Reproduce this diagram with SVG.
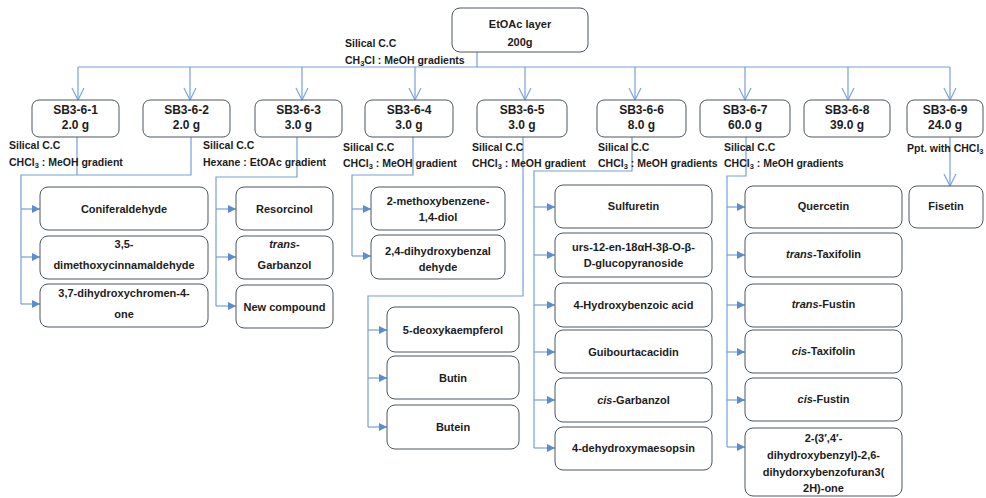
<svg xmlns="http://www.w3.org/2000/svg" width="986" height="498" viewBox="0 0 986 498">
  <style>
    .box { fill: #ffffff; stroke: #4b5663; stroke-width: 1; }
    .ln { fill: none; stroke: #74a1d8; stroke-width: 1.2; }
    .t { font-family: "Liberation Sans", Arial, sans-serif; font-weight: bold; font-size: 11px; fill: #1c1c1c; text-anchor: middle; }
    .f { font-size: 12px; }
    .lbl { font-family: "Liberation Sans", Arial, sans-serif; font-weight: bold; font-size: 10.5px; fill: #1c1c1c; }
    .sub { font-size: 7.5px; }
    .it { font-style: italic; }
  </style>
  <defs>
    <marker id="tri" viewBox="0 0 10 10" refX="10" refY="5" markerWidth="8" markerHeight="8" markerUnits="userSpaceOnUse" orient="auto">
      <path d="M0,0 L10,5 L0,10 z" fill="#5a8ccf"/>
    </marker>
    <marker id="vee" viewBox="0 0 14 14" refX="13" refY="7" markerWidth="14" markerHeight="14" markerUnits="userSpaceOnUse" orient="auto">
      <path d="M1,1 L13,7 L1,13" fill="none" stroke="#7aa6dc" stroke-width="1.2"/>
    </marker>
  </defs>
  <rect width="986" height="498" fill="#ffffff"/>

  <!-- connectors -->
  <g id="connectors">
    <!-- root to fractions -->
    <path class="ln" d="M477,52 V67 M78,67 H950"/>
    <path class="ln" marker-end="url(#vee)" d="M78,67 V100"/>
    <path class="ln" marker-end="url(#vee)" d="M190,67 V100"/>
    <path class="ln" marker-end="url(#vee)" d="M302,67 V100"/>
    <path class="ln" marker-end="url(#vee)" d="M415,67 V100"/>
    <path class="ln" marker-end="url(#vee)" d="M525,67 V100"/>
    <path class="ln" marker-end="url(#vee)" d="M635,67 V100"/>
    <path class="ln" marker-end="url(#vee)" d="M745,67 V100"/>
    <path class="ln" marker-end="url(#vee)" d="M848,67 V100"/>
    <path class="ln" marker-end="url(#vee)" d="M950,67 V100"/>

    <!-- SB3-6-1 / SB3-6-2 -->
    <path class="ln" d="M77,137 V175 M191,137 V175 H21 V304"/>
    <path class="ln" marker-end="url(#tri)" d="M21,209 H40"/>
    <path class="ln" marker-end="url(#tri)" d="M21,257 H40"/>
    <path class="ln" marker-end="url(#tri)" d="M21,304 H40"/>

    <!-- SB3-6-3 -->
    <path class="ln" d="M297,137 V177 H216 V306"/>
    <path class="ln" marker-end="url(#tri)" d="M216,209 H236"/>
    <path class="ln" marker-end="url(#tri)" d="M216,257 H236"/>
    <path class="ln" marker-end="url(#tri)" d="M216,306 H236"/>

    <!-- SB3-6-4 -->
    <path class="ln" d="M413,137 V175 H352 V256"/>
    <path class="ln" marker-end="url(#tri)" d="M352,209 H371"/>
    <path class="ln" marker-end="url(#tri)" d="M352,256 H371"/>

    <!-- SB3-6-5 -->
    <path class="ln" d="M523,137 V296 H368 V427"/>
    <path class="ln" marker-end="url(#tri)" d="M368,330 H387"/>
    <path class="ln" marker-end="url(#tri)" d="M368,378 H387"/>
    <path class="ln" marker-end="url(#tri)" d="M368,427 H387"/>

    <!-- SB3-6-6 -->
    <path class="ln" d="M632,137 V171 H534 V448"/>
    <path class="ln" marker-end="url(#tri)" d="M534,207 H555"/>
    <path class="ln" marker-end="url(#tri)" d="M534,255 H555"/>
    <path class="ln" marker-end="url(#tri)" d="M534,305 H555"/>
    <path class="ln" marker-end="url(#tri)" d="M534,352 H555"/>
    <path class="ln" marker-end="url(#tri)" d="M534,400 H555"/>
    <path class="ln" marker-end="url(#tri)" d="M534,448 H555"/>

    <!-- SB3-6-7 -->
    <path class="ln" d="M746,137 V176 H727 V447"/>
    <path class="ln" marker-end="url(#tri)" d="M727,207 H745"/>
    <path class="ln" marker-end="url(#tri)" d="M727,255 H745"/>
    <path class="ln" marker-end="url(#tri)" d="M727,305 H745"/>
    <path class="ln" marker-end="url(#tri)" d="M727,352 H745"/>
    <path class="ln" marker-end="url(#tri)" d="M727,400 H745"/>
    <path class="ln" marker-end="url(#tri)" d="M727,447 H745"/>

    <!-- SB3-6-9 -->
    <path class="ln" marker-end="url(#vee)" d="M950,137 V186"/>
  </g>

  <!-- process labels -->
  <g id="labels">
    <text class="lbl" x="345" y="47">Silical C.C</text>
    <text class="lbl" x="345" y="64">CH<tspan class="sub" dy="2">3</tspan><tspan dy="-2">Cl : MeOH gradients</tspan></text>

    <text class="lbl" x="9" y="149">Silical C.C</text>
    <text class="lbl" x="9" y="166">CHCl<tspan class="sub" dy="2">3</tspan><tspan dy="-2"> : MeOH gradient</tspan></text>

    <text class="lbl" x="203" y="149">Silical C.C</text>
    <text class="lbl" x="203" y="166">Hexane : EtOAc gradient</text>

    <text class="lbl" x="343" y="151">Silical C.C</text>
    <text class="lbl" x="343" y="167">CHCl<tspan class="sub" dy="2">3</tspan><tspan dy="-2"> : MeOH gradient</tspan></text>

    <text class="lbl" x="472" y="151">Silical C.C</text>
    <text class="lbl" x="472" y="167">CHCl<tspan class="sub" dy="2">3</tspan><tspan dy="-2"> : MeOH gradient</tspan></text>

    <text class="lbl" x="598" y="151">Silical C.C</text>
    <text class="lbl" x="598" y="167">CHCl<tspan class="sub" dy="2">3</tspan><tspan dy="-2"> : MeOH gradients</tspan></text>

    <text class="lbl" x="724" y="151">Silical C.C</text>
    <text class="lbl" x="724" y="167">CHCl<tspan class="sub" dy="2">3</tspan><tspan dy="-2"> : MeOH gradients</tspan></text>

    <text class="lbl" x="907" y="152">Ppt. with CHCl<tspan class="sub" dy="2">3</tspan></text>
  </g>

  <!-- root -->
  <g id="etoac">
    <rect class="box" x="452" y="8" width="136" height="44" rx="8"/>
    <text class="t" x="520" y="28">EtOAc layer</text>
    <text class="t" x="520" y="46">200g</text>
  </g>

  <!-- fractions -->
  <g id="sb3-6-1"><rect class="box" x="32" y="100" width="87" height="37" rx="7"/><text class="t f" x="75.5" y="114">SB3-6-1</text><text class="t f" x="75.5" y="129">2.0 g</text></g>
  <g id="sb3-6-2"><rect class="box" x="143" y="100" width="87" height="37" rx="7"/><text class="t f" x="186.5" y="114">SB3-6-2</text><text class="t f" x="186.5" y="129">2.0 g</text></g>
  <g id="sb3-6-3"><rect class="box" x="255" y="100" width="87" height="37" rx="7"/><text class="t f" x="298.5" y="114">SB3-6-3</text><text class="t f" x="298.5" y="129">3.0 g</text></g>
  <g id="sb3-6-4"><rect class="box" x="365" y="100" width="88" height="37" rx="7"/><text class="t f" x="409" y="114">SB3-6-4</text><text class="t f" x="409" y="129">3.0 g</text></g>
  <g id="sb3-6-5"><rect class="box" x="477" y="100" width="90" height="37" rx="7"/><text class="t f" x="522" y="114">SB3-6-5</text><text class="t f" x="522" y="129">3.0 g</text></g>
  <g id="sb3-6-6"><rect class="box" x="597" y="100" width="89" height="37" rx="7"/><text class="t f" x="641.5" y="114">SB3-6-6</text><text class="t f" x="641.5" y="129">8.0 g</text></g>
  <g id="sb3-6-7"><rect class="box" x="700" y="100" width="90" height="37" rx="7"/><text class="t f" x="745" y="114">SB3-6-7</text><text class="t f" x="745" y="129">60.0 g</text></g>
  <g id="sb3-6-8"><rect class="box" x="804" y="100" width="86" height="37" rx="7"/><text class="t f" x="847" y="114">SB3-6-8</text><text class="t f" x="847" y="129">39.0 g</text></g>
  <g id="sb3-6-9"><rect class="box" x="907" y="100" width="76" height="37" rx="7"/><text class="t f" x="945" y="114">SB3-6-9</text><text class="t f" x="945" y="129">24.0 g</text></g>

  <!-- compounds from SB3-6-1 / SB3-6-2 -->
  <g id="coniferaldehyde"><rect class="box" x="40" y="187" width="168" height="43" rx="8"/><text class="t" x="124" y="213">Coniferaldehyde</text></g>
  <g id="dimethoxycinnamaldehyde"><rect class="box" x="40" y="236" width="168" height="43" rx="8"/><text class="t" x="124" y="248">3,5-</text><text class="t" x="124" y="269">dimethoxycinnamaldehyde</text></g>
  <g id="dihydroxychromenone"><rect class="box" x="40" y="284" width="168" height="43" rx="8"/><text class="t" x="124" y="297">3,7-dihydroxychromen-4-</text><text class="t" x="124" y="318">one</text></g>

  <!-- compounds from SB3-6-3 -->
  <g id="resorcinol"><rect class="box" x="236" y="187" width="97" height="43" rx="8"/><text class="t" x="284.5" y="213">Resorcinol</text></g>
  <g id="trans-garbanzol"><rect class="box" x="236" y="236" width="97" height="43" rx="8"/><text class="t" x="284.5" y="248"><tspan class="it">trans</tspan>-</text><text class="t" x="284.5" y="269">Garbanzol</text></g>
  <g id="new-compound"><rect class="box" x="236" y="285" width="97" height="43" rx="8"/><text class="t" x="284.5" y="311">New compound</text></g>

  <!-- compounds from SB3-6-4 -->
  <g id="methoxybenzenediol"><rect class="box" x="371" y="187" width="134" height="43" rx="8"/><text class="t" x="438" y="205">2-methoxybenzene-</text><text class="t" x="438" y="221">1,4-diol</text></g>
  <g id="dihydroxybenzaldehyde"><rect class="box" x="371" y="235" width="134" height="44" rx="8"/><text class="t" x="438" y="255">2,4-dihydroxybenzal</text><text class="t" x="438" y="271">dehyde</text></g>

  <!-- compounds from SB3-6-5 -->
  <g id="deoxykaempferol"><rect class="box" x="387" y="307" width="132" height="45" rx="8"/><text class="t" x="453" y="334">5-deoxykaempferol</text></g>
  <g id="butin"><rect class="box" x="387" y="356" width="132" height="43" rx="8"/><text class="t" x="453" y="382">Butin</text></g>
  <g id="butein"><rect class="box" x="387" y="405" width="132" height="44" rx="8"/><text class="t" x="453" y="431">Butein</text></g>

  <!-- compounds from SB3-6-6 -->
  <g id="sulfuretin"><rect class="box" x="555" y="185" width="157" height="43" rx="8"/><text class="t" x="633.5" y="210">Sulfuretin</text></g>
  <g id="urs-glucopyranoside"><rect class="box" x="555" y="233" width="157" height="44" rx="8"/><text class="t" x="633.5" y="251">urs-12-en-18αH-3β-O-β-</text><text class="t" x="633.5" y="267">D-glucopyranoside</text></g>
  <g id="hydroxybenzoic-acid"><rect class="box" x="555" y="283" width="157" height="44" rx="8"/><text class="t" x="633.5" y="309">4-Hydroxybenzoic acid</text></g>
  <g id="guibourtacacidin"><rect class="box" x="555" y="330" width="157" height="43" rx="8"/><text class="t" x="633.5" y="356">Guibourtacacidin</text></g>
  <g id="cis-garbanzol"><rect class="box" x="555" y="378" width="157" height="44" rx="8"/><text class="t" x="633.5" y="404"><tspan class="it">cis</tspan>-Garbanzol</text></g>
  <g id="dehydroxymaesopsin"><rect class="box" x="555" y="427" width="157" height="43" rx="8"/><text class="t" x="633.5" y="452">4-dehydroxymaesopsin</text></g>

  <!-- compounds from SB3-6-7 -->
  <g id="quercetin"><rect class="box" x="745" y="186" width="157" height="42" rx="8"/><text class="t" x="823.5" y="210">Quercetin</text></g>
  <g id="trans-taxifolin"><rect class="box" x="745" y="233" width="157" height="44" rx="8"/><text class="t" x="823.5" y="258"><tspan class="it">trans</tspan>-Taxifolin</text></g>
  <g id="trans-fustin"><rect class="box" x="745" y="284" width="157" height="43" rx="8"/><text class="t" x="823.5" y="308"><tspan class="it">trans</tspan>-Fustin</text></g>
  <g id="cis-taxifolin"><rect class="box" x="745" y="330" width="157" height="43" rx="8"/><text class="t" x="823.5" y="355"><tspan class="it">cis</tspan>-Taxifolin</text></g>
  <g id="cis-fustin"><rect class="box" x="745" y="378" width="157" height="43" rx="8"/><text class="t" x="823.5" y="403"><tspan class="it">cis</tspan>-Fustin</text></g>
  <g id="benzofuranone"><rect class="box" x="745" y="428" width="157" height="68" rx="8"/><text class="t" x="823.5" y="442">2-(3′,4′-</text><text class="t" x="823.5" y="459">dihydroxybenzyl)-2,6-</text><text class="t" x="823.5" y="476">dihydorxybenzofuran3(</text><text class="t" x="823.5" y="492">2H)-one</text></g>

  <!-- compound from SB3-6-9 -->
  <g id="fisetin"><rect class="box" x="909" y="186" width="74" height="42" rx="8"/><text class="t" x="946" y="210">Fisetin</text></g>
</svg>
